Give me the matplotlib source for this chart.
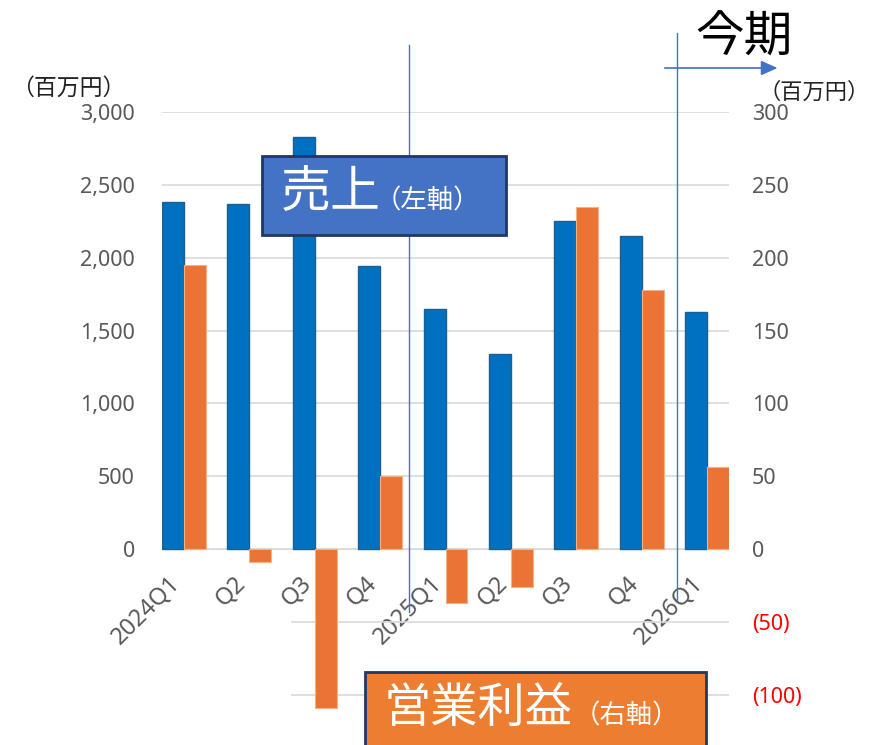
import numpy as np
import matplotlib.pyplot as plt
import matplotlib.transforms as mtransforms
from matplotlib.patches import Rectangle

plt.rcParams['font.family'] = ['Noto Sans CJK JP', 'DejaVu Sans']

# data
quarters = ['2024Q1', 'Q2', 'Q3', 'Q4', '2025Q1', 'Q2', 'Q3', 'Q4', '2026Q1']
sales = [2380, 2370, 2830, 1940, 1650, 1340, 2250, 2150, 1630]     # left axis
op_profit = [195, -9, -109, 50, -37, -26, 235, 178, 56]            # right axis
left_ticks = [0, 500, 1000, 1500, 2000, 2500, 3000]
right_ticks = [-100, -50, 0, 50, 100, 150, 200, 250, 300]

blue = '#0070C0'
orange = '#ED7D31'
bar_orange = '#EA7335'
gray = '#595959'
grid_c = '#D9D9D9'
line_blue = '#4472C4'

fig = plt.figure(figsize=(8.71, 7.45), dpi=100)
W, H = 871, 745
px = 72 / 100  # points per pixel
ax = fig.add_axes([162 / W, 0, (729 - 162) / W, (745 - 112) / H])
ax2 = ax.twinx()

x = np.arange(len(quarters))
bw = 0.336
ax.bar(x - bw / 2, sales, width=bw, color=blue, edgecolor='#1F5F8B', linewidth=1, zorder=3)
ax2.bar(x + bw / 2, op_profit, width=bw, color=bar_orange, edgecolor='#F4B183', linewidth=0.8, zorder=3)

ax.set_xlim(-0.336, len(quarters) - 1 + 0.336)
ax.set_ylim(-1345, 3000)
ax2.set_ylim(-134.5, 300)

# gridlines
for v in left_ticks:
    ax.axhline(v, color=grid_c, lw=1.2, zorder=1)
for v in [-50, -100]:
    ax2.axhline(v, xmin=0.229, xmax=1, color=grid_c, lw=1.2, zorder=1)

for s in ['top', 'right', 'left']:
    ax.spines[s].set_visible(False)
    ax2.spines[s].set_visible(False)
ax2.spines['bottom'].set_visible(False)
ax.spines['bottom'].set_position(('data', 0))
ax.spines['bottom'].set_color(grid_c)

ax.set_yticks(left_ticks)
ax.set_yticklabels([f'{v:,}' for v in left_ticks], fontfamily='Noto Sans')
ax.tick_params(axis='y', length=0, pad=27 * px, labelsize=15.5, labelcolor=gray)

ax2.set_yticks(right_ticks)
ax2.set_yticklabels([f'({-v})' if v < 0 else f'{v}' for v in right_ticks], fontfamily='Noto Sans')
ax2.tick_params(axis='y', length=0, pad=23 * px, labelsize=15.5)
for lab, v in zip(ax2.get_yticklabels(), right_ticks):
    lab.set_color('#FF0000' if v < 0 else gray)

ax.set_xticks(x)
ax.set_xticklabels(quarters, rotation=45, ha='right', va='center', rotation_mode='anchor',
                   fontfamily='Noto Sans')
ax.tick_params(axis='x', length=0, pad=0, labelsize=17, labelcolor=gray)
shift = mtransforms.ScaledTranslation(-7 / 100, -31 / 100, fig.dpi_scale_trans)
for lab in ax.get_xticklabels():
    lab.set_transform(lab.get_transform() + shift)

# vertical markers and arrow
ax.plot([3.44, 3.44], [-430, 3460], color=line_blue, lw=1, clip_on=False, zorder=5)
ax.plot([7.54, 7.54], [-350, 3545], color=line_blue, lw=1, clip_on=False, zorder=5)
ax.annotate('', xy=(9.12, 3302), xytext=(7.31, 3302),
            arrowprops=dict(arrowstyle='-|>,head_length=1.0,head_width=0.45',
                            color=line_blue, lw=1.2), annotation_clip=False)

fig.text(744 / W, 1 - 38 / H, '今期', fontsize=35, ha='center', va='center')
fig.text(11 / W, 1 - 88 / H, '（百万円）', fontsize=16.5, ha='left', va='center', color='#222222')
fig.text(759 / W, 1 - 92 / H, '（百万円）', fontsize=16, ha='left', va='center', color='#222222')

# legend boxes
fig.patches.append(Rectangle((262 / W, 1 - 235 / H), 244 / W, 79 / H, transform=fig.transFigure,
                             facecolor='#4472C4', edgecolor='#1F3864', lw=2, zorder=10))
fig.text(281 / W, 1 - 193 / H, '売上', fontsize=36, color='white', ha='left', va='center', zorder=11)
fig.text(375 / W, 1 - 201 / H, '（左軸）', fontsize=19, color='white', ha='left', va='center', zorder=11)

fig.patches.append(Rectangle((365 / W, -0.02), 341 / W, (745 - 672) / H + 0.02,
                             transform=fig.transFigure,
                             facecolor=orange, edgecolor='#1F3864', lw=2, zorder=10))
fig.text(384 / W, 1 - 709 / H, '営業利益', fontsize=34, color='white', ha='left', va='center', zorder=11)
fig.text(574 / W, 1 - 716 / H, '（右軸）', fontsize=19, color='white', ha='left', va='center', zorder=11)

fig.savefig('out.png', dpi=100)
